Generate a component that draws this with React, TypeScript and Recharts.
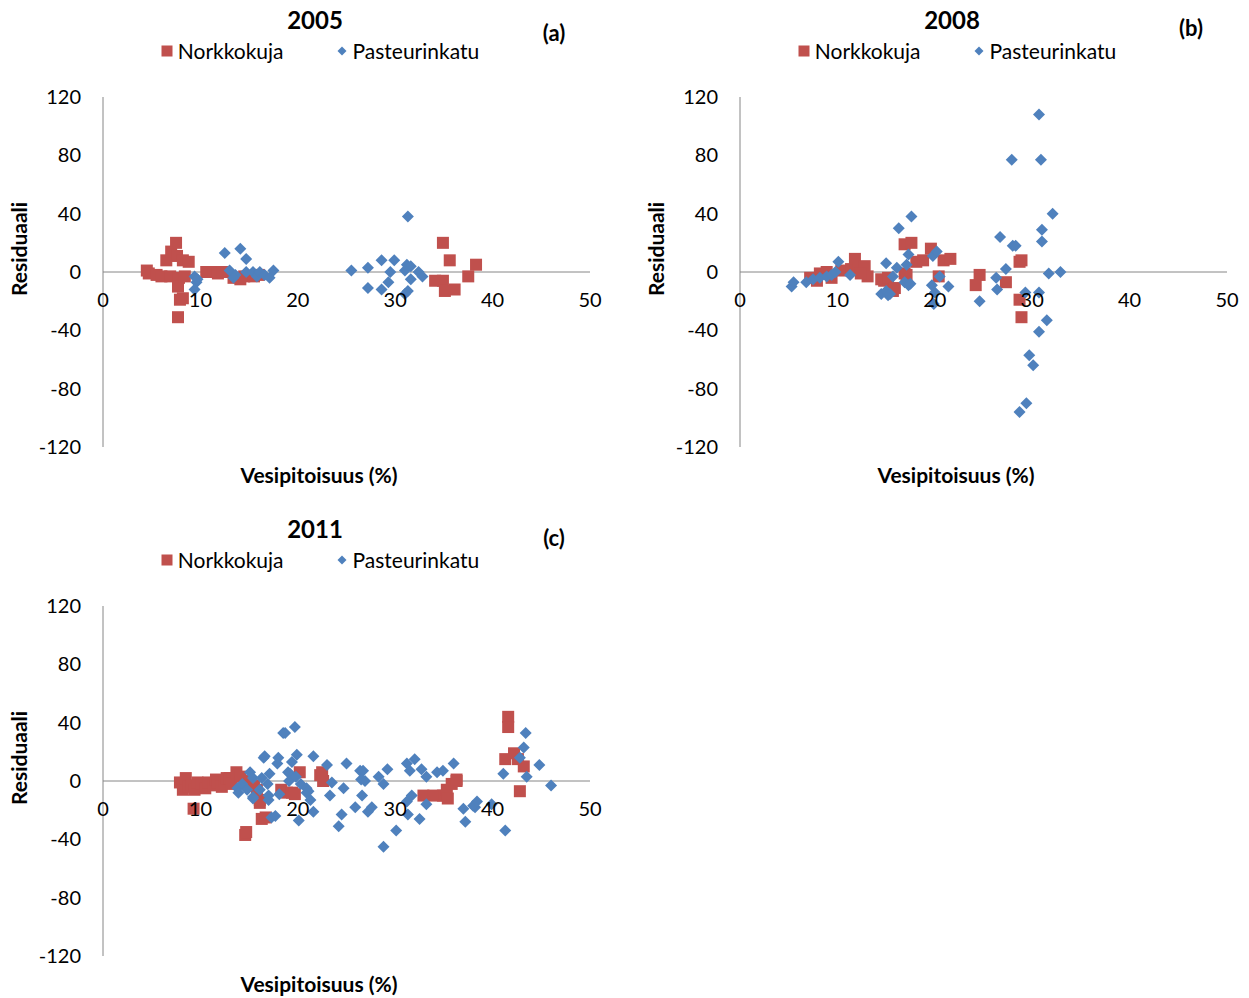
import {
  ScatterChart,
  Scatter,
  XAxis,
  YAxis,
  ReferenceLine,
  ReferenceDot,
  Legend,
} from 'recharts'

const RED = '#c0504d'
const BLUE = '#4f81bd'
const AXIS = '#868686'
const FONT = 'Lato, "Open Sans", sans-serif'

const X_TICKS = [0, 10, 20, 30, 40, 50]
const Y_TICKS = [-120, -80, -40, 0, 40, 80, 120]

type Pt = { x: number; y: number }
const pts = (rows: number[][]): Pt[] => rows.map(([x, y]) => ({ x, y }))

// 2005
const norkko2005 = pts([
  [4.5, 1], [4.7, -1], [5.5, -2], [6.0, -3], [6.5, 8], [6.9, -3], [7.0, 14], [7.5, 20],
  [7.6, 11], [7.8, -4], [7.7, -10], [8.2, 8], [8.8, 7], [7.9, -19], [8.2, -18], [7.7, -31],
  [8.4, -3], [10.6, 0], [11.3, 0], [11.8, -1], [12.3, 0], [13.4, -4], [14.1, -5], [14.5, -3],
  [15.5, -3], [16.0, -2], [34.9, 20], [35.6, 8], [34.1, -6], [34.9, -6], [35.1, -13],
  [36.1, -12], [37.5, -3], [38.3, 5],
])
const pasteur2005 = pts([
  [9.4, -3], [9.6, -7], [9.4, -12], [9.7, -5], [12.5, 13], [14.1, 16], [14.7, 9], [13.0, 1],
  [13.6, -2], [13.4, -4], [14.7, 0], [15.4, 0], [15.8, -3], [16.1, 0], [16.6, -2], [17.1, -4],
  [17.5, 1], [25.5, 1], [27.2, 3], [28.6, 8], [29.9, 8], [29.5, 0], [29.3, -7], [28.6, -12],
  [27.2, -11], [31.2, 5], [31.6, 4], [31.0, 1], [31.3, 38], [32.4, 0], [32.8, -3], [31.6, -5],
  [31.3, -13], [31.0, -15],
])

// 2008
const norkko2008 = pts([
  [7.2, -4], [7.9, -6], [8.2, -1], [8.9, 0], [9.4, -4], [10.4, 1], [11.4, 2], [11.8, 9],
  [12.2, 3], [12.8, 4], [13.1, -3], [12.4, -1], [14.5, -5], [14.8, -6], [15.2, -4], [15.7, -13],
  [15.9, -11], [16.9, -1], [16.9, 19], [17.6, 20], [17.1, -2], [18.1, 7], [18.8, 8], [19.6, 16],
  [20.4, -3], [20.9, 8], [21.6, 9], [24.6, -2], [24.2, -9], [27.3, -7], [28.7, 7], [28.9, 8],
  [28.7, -19], [28.9, -31],
])
const pasteur2008 = pts([
  [5.3, -10], [5.5, -7], [6.8, -7], [7.5, -5], [8.2, -4], [8.9, -3], [9.4, -2], [9.8, 0],
  [10.1, 7], [11.3, -2], [14.5, -15], [15.2, -16], [15.0, -13], [15.0, 6], [15.4, -15],
  [15.7, -3], [16.1, 3], [16.3, 30], [17.1, 5], [17.3, 12], [17.6, 38], [16.9, -7], [17.3, -9],
  [17.5, -8], [19.8, 11], [20.2, 14], [20.5, -3], [19.7, -9], [19.9, -22], [20.0, -14],
  [21.4, -10], [24.6, -20], [26.3, -4], [26.4, -12], [26.7, 24], [27.3, 2], [28.0, 18],
  [28.3, 18], [27.9, 77], [29.3, -14], [29.4, -90], [28.7, -96], [29.7, -57], [30.1, -64],
  [30.7, -41], [30.7, -14], [31.5, -33], [30.7, 108], [30.9, 77], [31.0, 29], [31.0, 21],
  [31.7, -1], [32.1, 40], [32.9, 0],
])

// 2011
const norkko2011 = pts([
  [7.9, -1], [8.2, -6], [8.5, 2], [8.8, -4], [9.1, -3], [9.4, -6], [9.3, -19], [9.7, -1],
  [10.1, -2], [10.5, -5], [10.8, -1], [11.3, -3], [11.6, 1], [11.8, -1], [12.2, -4], [12.5, 0],
  [12.7, 2], [13.0, 2], [13.2, -2], [13.7, 6], [14.1, 3], [14.8, 0], [15.5, -3], [14.6, -37],
  [14.7, -35], [15.8, -6], [16.1, -13], [16.1, -15], [16.3, -26], [16.7, -25], [18.3, -6],
  [18.9, -8], [19.4, -8], [19.7, -9], [20.2, 6], [22.3, 4], [22.5, 6], [22.6, 0], [32.9, -10],
  [33.9, -10], [34.9, -10], [35.1, -10], [35.3, -6], [35.4, -12], [35.8, -2], [36.3, 0],
  [36.3, 1], [41.6, 44], [41.6, 37], [41.3, 15], [42.2, 19], [42.6, 15], [43.2, 10], [42.8, -7],
])
const pasteur2011 = pts([
  [13.8, -5], [13.9, -8], [14.3, -2], [14.8, -6], [15.1, 6], [15.4, 2], [15.4, -11], [15.4, -12],
  [16.1, -6], [16.3, 2], [16.5, 16], [16.6, 17], [16.9, -2], [17.0, -10], [17.0, -13], [17.1, 5],
  [17.3, -25], [17.7, -24], [17.9, 12], [18.0, 16], [18.1, -9], [18.5, 33], [18.7, 33], [19.0, 6],
  [19.1, 0], [19.2, 5], [19.4, 13], [19.7, 37], [19.8, 3], [19.9, 18], [20.1, -27], [20.3, -2],
  [20.9, -5], [20.9, -8], [21.1, -7], [21.3, -13], [21.6, -21], [21.6, 17], [23.0, 11],
  [23.3, -10], [23.5, -1], [24.2, -31], [24.5, -23], [24.7, -5], [25.0, 12], [25.9, -18],
  [26.4, 7], [26.7, 7], [26.5, 1], [26.9, 0], [26.6, -10], [27.2, -21], [27.6, -18], [28.3, 3],
  [28.8, -2], [29.2, 8], [28.8, -45], [30.1, -34], [31.2, 12], [32.0, 15], [31.5, 7], [31.2, -14],
  [31.7, -10], [31.3, -23], [32.5, -26], [32.7, 8], [33.2, 3], [33.2, -16], [34.3, 6], [34.9, 7],
  [36.0, 12], [37.0, -19], [37.2, -28], [38.2, -18], [38.0, -17], [38.4, -14], [39.9, -16],
  [41.1, 5], [41.3, -34], [42.8, 16], [43.2, 23], [43.4, 33], [43.5, 3], [44.8, 11], [46.0, -3],
])

const Square = (props: any) => {
  const { cx, cy, fill } = props
  const s = 12
  return <rect x={cx - s / 2} y={cy - s / 2} width={s} height={s} fill={fill} />
}

const Diamond = (props: any) => {
  const { cx, cy, fill } = props
  const r = 6
  return <polygon points={`${cx},${cy - r} ${cx + r},${cy} ${cx},${cy + r} ${cx - r},${cy}`} fill={fill} />
}

const renderLegend = (props: any) => {
  const items = props.payload || []
  return (
    <div
      style={{
        display: 'flex',
        justifyContent: 'center',
        alignItems: 'center',
        gap: 52,
        fontFamily: FONT,
        fontSize: 21,
        color: '#000',
        paddingLeft: 20,
      }}
    >
      {items.map((entry: any) => (
        <span key={entry.value} style={{ display: 'flex', alignItems: 'center', gap: 5 }}>
          <svg width={12} height={12}>
            {entry.type === 'square' ? (
              <rect x={0.5} y={0.5} width={11} height={11} fill={RED} />
            ) : (
              <polygon points="6,1.5 10.5,6 6,10.5 1.5,6" fill={BLUE} />
            )}
          </svg>
          {entry.value}
        </span>
      ))}
    </div>
  )
}

const textBase = { position: 'absolute' as const, fontFamily: FONT, color: '#000', whiteSpace: 'nowrap' as const }

function Panel({
  left,
  top,
  title,
  letter,
  letterTop,
  norkko,
  pasteur,
}: {
  left: number
  top: number
  title: string
  letter: string
  letterTop: number
  norkko: Pt[]
  pasteur: Pt[]
}) {
  return (
    <div style={{ position: 'absolute', left, top, width: 620, height: 500 }}>
      <ScatterChart width={620} height={500} margin={{ top: 97, right: 30, bottom: 53, left: 63 }}>
        <XAxis type="number" dataKey="x" domain={[0, 50]} ticks={X_TICKS} hide />
        <YAxis
          type="number"
          dataKey="y"
          domain={[-120, 120]}
          ticks={Y_TICKS}
          interval={0}
          width={40}
          axisLine={{ stroke: AXIS }}
          tickLine={false}
          tickSize={0}
          tickMargin={22}
          tick={{ fontSize: 20, fill: '#000', fontFamily: FONT }}
        />
        <ReferenceLine y={0} stroke={AXIS} />
        {X_TICKS.map((t) => (
          <ReferenceDot
            key={t}
            x={t}
            y={0}
            r={0}
            fill="none"
            stroke="none"
            label={{ value: String(t), position: 'bottom', offset: 21, fontSize: 20, fill: '#000', fontFamily: FONT }}
          />
        ))}
        <Legend
          layout="horizontal"
          verticalAlign="middle"
          align="center"
          wrapperStyle={{ top: 38, left: 0, width: 620 }}
          content={renderLegend}
        />
        <Scatter name="Norkkokuja" data={norkko} fill={RED} shape={Square} legendType="square" isAnimationActive={false} />
        <Scatter name="Pasteurinkatu" data={pasteur} fill={BLUE} shape={Diamond} legendType="diamond" isAnimationActive={false} />
      </ScatterChart>
      <div style={{ ...textBase, left: 315, top: 5, transform: 'translateX(-50%)', fontSize: 24, fontWeight: 700 }}>
        {title}
      </div>
      <div style={{ ...textBase, left: 554, top: letterTop, transform: 'translateX(-50%)', fontSize: 22, fontWeight: 700 }}>
        {letter}
      </div>
      <div
        style={{
          ...textBase,
          left: 18,
          top: 249,
          transform: 'translate(-50%, -50%) rotate(-90deg)',
          fontSize: 21,
          fontWeight: 700,
        }}
      >
        Residuaali
      </div>
      <div style={{ ...textBase, left: 319, top: 462, transform: 'translateX(-50%)', fontSize: 21, fontWeight: 700 }}>
        Vesipitoisuus (%)
      </div>
    </div>
  )
}

export default function App() {
  return (
    <div style={{ position: 'absolute', left: 0, top: 0, width: 1249, height: 998, background: '#fff' }}>
      <Panel left={0} top={0} title="2005" letter="(a)" letterTop={19} norkko={norkko2005} pasteur={pasteur2005} />
      <Panel left={637} top={0} title="2008" letter="(b)" letterTop={14} norkko={norkko2008} pasteur={pasteur2008} />
      <Panel left={0} top={509} title="2011" letter="(c)" letterTop={15} norkko={norkko2011} pasteur={pasteur2011} />
    </div>
  )
}
